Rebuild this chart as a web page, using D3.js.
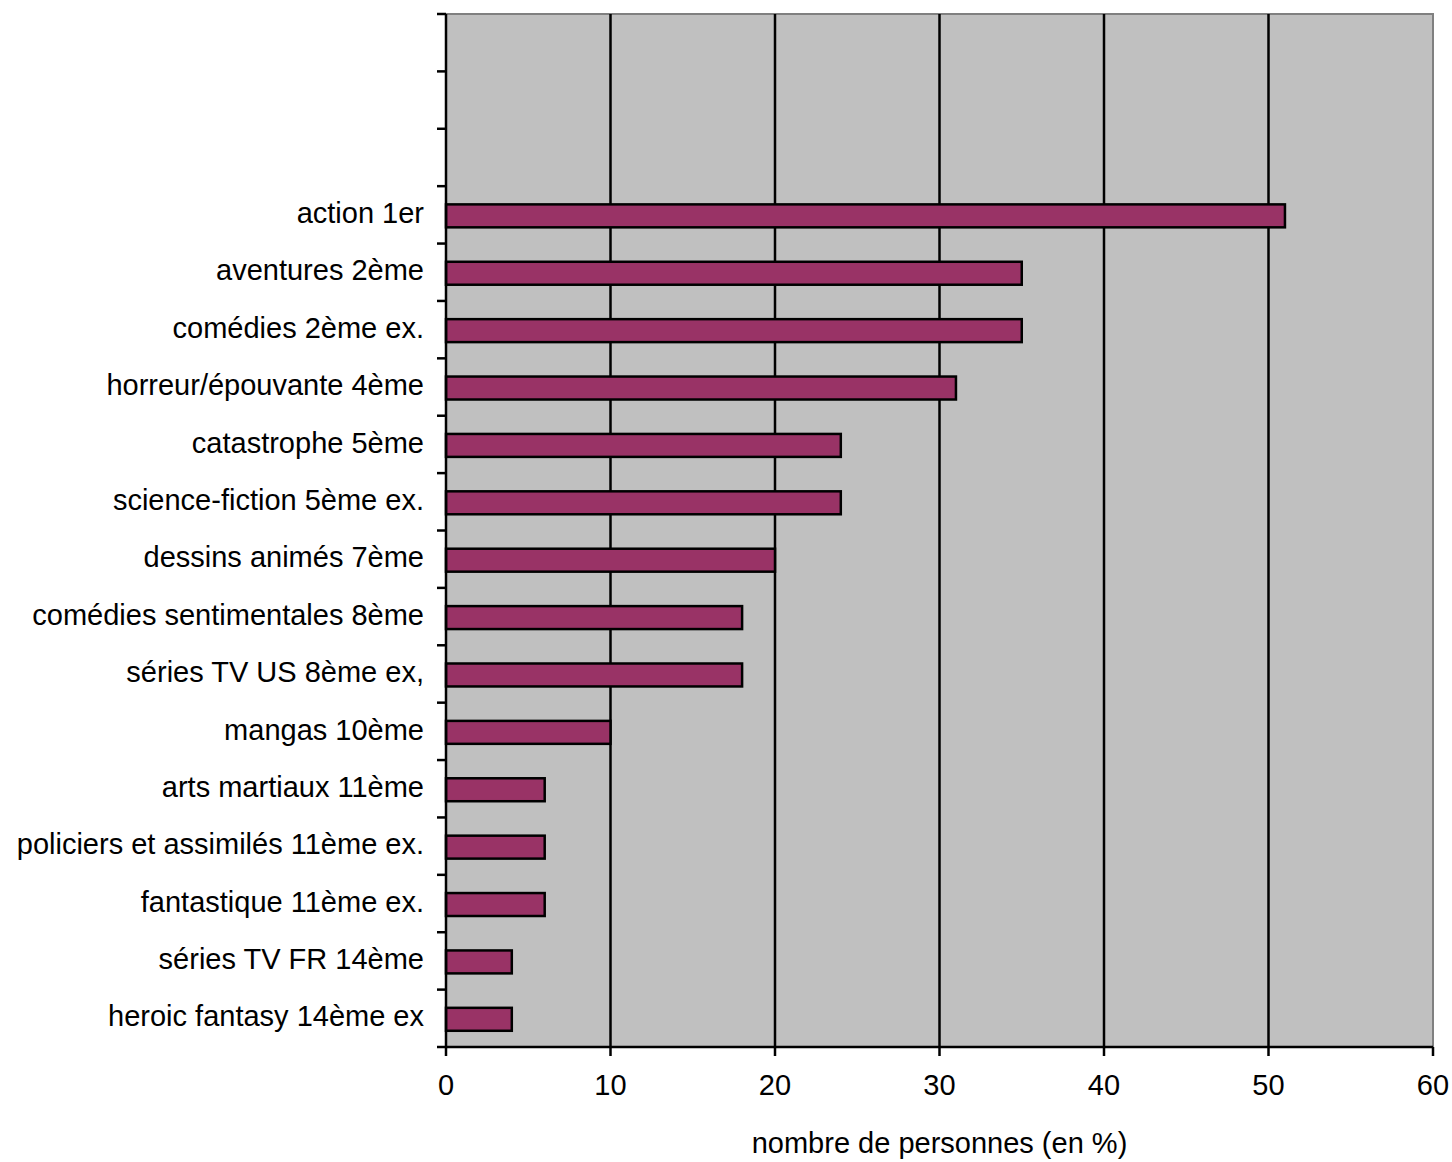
<!DOCTYPE html>
<html>
<head>
<meta charset="utf-8">
<script src="https://cdn.jsdelivr.net/npm/d3@7"></script>
<style>
  html, body { margin: 0; padding: 0; background: #ffffff; }
  svg text { font-family: "Liberation Sans", Arial, sans-serif; fill: #000; }
</style>
</head>
<body>
<svg id="chart" width="1452" height="1162"></svg>
<script>
// Film genres (ranked), top to bottom
const categories = [
  "action 1er",
  "aventures 2ème",
  "comédies 2ème ex.",
  "horreur/épouvante 4ème",
  "catastrophe 5ème",
  "science-fiction 5ème ex.",
  "dessins animés 7ème",
  "comédies sentimentales 8ème",
  "séries TV US 8ème ex,",
  "mangas 10ème",
  "arts martiaux 11ème",
  "policiers et assimilés 11ème ex.",
  "fantastique 11ème ex.",
  "séries TV FR 14ème",
  "heroic fantasy 14ème ex"
];
// Share of respondents (%)
const values = [51, 35, 35, 31, 24, 24, 20, 18, 18, 10, 6, 6, 6, 4, 4];
const xTicks = [0, 10, 20, 30, 40, 50, 60];
// Three empty slots sit above the first genre
const emptySlots = ["__empty0", "__empty1", "__empty2"];
const xTitle = "nombre de personnes (en %)";

const svg = d3.select("#chart");
const plotL = 446, plotR = 1433, plotT = 14, plotB = 1047;
const fontSize = 29;

const x = d3.scaleLinear().domain([0, 60]).range([plotL, plotR]);
const slots = emptySlots.concat(categories);
const y = d3.scaleBand().domain(slots).range([plotT, plotB]).paddingInner(0).paddingOuter(0);

// plot background
svg.append("rect")
  .attr("x", plotL).attr("y", plotT)
  .attr("width", plotR - plotL).attr("height", plotB - plotT)
  .attr("fill", "#c0c0c0");

// top and right border
svg.append("path")
  .attr("d", `M${plotL},${plotT}H${plotR}V${plotB}`)
  .attr("fill", "none").attr("stroke", "#808080").attr("stroke-width", 2);

// vertical gridlines
svg.append("g").selectAll("line")
  .data(xTicks.filter(t => t > 0 && t < 60))
  .join("line")
  .attr("x1", d => x(d)).attr("x2", d => x(d))
  .attr("y1", plotT).attr("y2", plotB)
  .attr("stroke", "#000").attr("stroke-width", 2.5);

// bars
const bh = y.bandwidth() * 0.4;
svg.append("g").selectAll("rect")
  .data(categories.map((c, i) => ({ c, v: values[i] })))
  .join("rect")
  .attr("x", x(0))
  .attr("y", d => y(d.c) + y.bandwidth() / 2 - bh / 2 + 1)
  .attr("width", d => x(d.v) - x(0))
  .attr("height", bh)
  .attr("fill", "#993366")
  .attr("stroke", "#000").attr("stroke-width", 2.5);

// y axis: line + ticks at slot boundaries
const yAxis = svg.append("g");
yAxis.append("line")
  .attr("x1", plotL).attr("x2", plotL).attr("y1", plotT).attr("y2", plotB)
  .attr("stroke", "#000").attr("stroke-width", 2.5);
const bounds = d3.range(slots.length + 1).map(i => plotT + i * y.step());
yAxis.selectAll("line.tick").data(bounds).join("line")
  .attr("class", "tick")
  .attr("x1", plotL - 9).attr("x2", plotL)
  .attr("y1", d => d).attr("y2", d => d)
  .attr("stroke", "#000").attr("stroke-width", 2.5);
yAxis.selectAll("text").data(categories).join("text")
  .attr("x", plotL - 22)
  .attr("y", d => y(d) + y.bandwidth() / 2 - 2)
  .attr("dy", "0.35em")
  .attr("text-anchor", "end")
  .attr("font-size", fontSize)
  .text(d => d);

// x axis
const xAxis = svg.append("g");
xAxis.append("line")
  .attr("x1", plotL).attr("x2", plotR).attr("y1", plotB).attr("y2", plotB)
  .attr("stroke", "#000").attr("stroke-width", 2.5);
xAxis.selectAll("line.tick").data(xTicks).join("line")
  .attr("class", "tick")
  .attr("x1", d => x(d)).attr("x2", d => x(d))
  .attr("y1", plotB).attr("y2", plotB + 9)
  .attr("stroke", "#000").attr("stroke-width", 2.5);
xAxis.selectAll("text").data(xTicks).join("text")
  .attr("x", d => x(d))
  .attr("y", plotB + 38)
  .attr("dy", "0.35em")
  .attr("text-anchor", "middle")
  .attr("font-size", fontSize)
  .text(d => d);

svg.append("text")
  .attr("x", (plotL + plotR) / 2)
  .attr("y", 1143)
  .attr("dy", "0.35em")
  .attr("text-anchor", "middle")
  .attr("font-size", fontSize)
  .text(xTitle);
</script>
</body>
</html>
